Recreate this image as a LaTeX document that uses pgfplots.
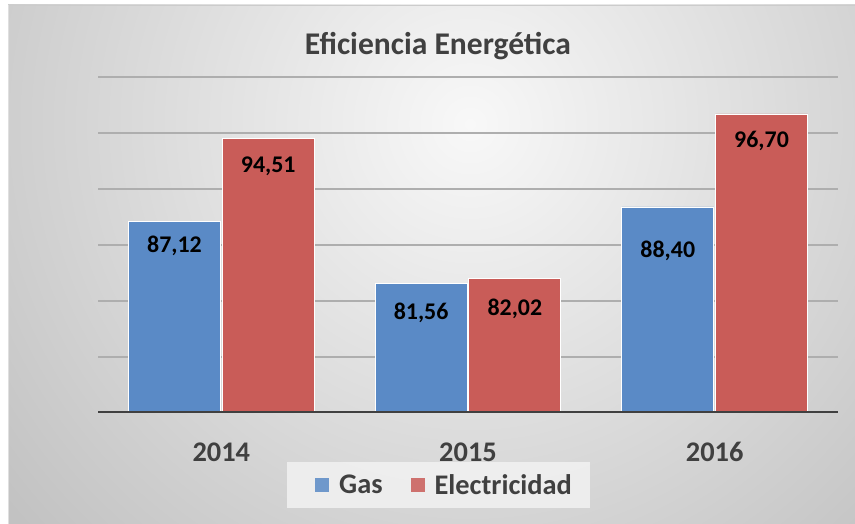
\documentclass[border=0pt]{standalone}
\usepackage{pgfplots}
\pgfplotsset{compat=1.18}
\usepackage{pgfplotstable}
\usepackage{fontspec}
\setmainfont{Carlito}
\definecolor{barblue}{HTML}{5A8AC6}
\definecolor{barred}{HTML}{C95C58}
\definecolor{txtgray}{HTML}{404040}
\definecolor{gridgray}{HTML}{AEAEAE}
\definecolor{bgout}{HTML}{C2C2C2}
\definecolor{bgin}{HTML}{F8F8F8}

\pgfplotstableread{
x  gas    elec
0  87.12  94.51
1  81.56  82.02
2  88.40  96.70
}\datatab

\pgfplotstableread{
x      y     label
-0.19  84.9  87,12
0.19   92.0  94,51
0.81   78.9  81,56
1.19   79.3  82,02
1.81   84.5  88,40
2.19   94.3  96,70
}\labtab

\begin{document}
\begin{tikzpicture}
\useasboundingbox (0,0) rectangle (855bp,524bp);
\fill[white] (0,0) rectangle (855bp,524bp);
\begin{scope}
\clip (8bp,0) rectangle (855bp,519bp);
\fill[bgout] (8bp,0) rectangle (855bp,519bp);
\shade[inner color=bgin, outer color=bgout] (470bp,400bp) circle (600bp);
\end{scope}
\draw[gray!40, line width=0.8bp] (8bp,519bp) -- (855bp,519bp);
\draw[gray!25, line width=0.8bp] (8bp,0) -- (8bp,519bp);

\begin{axis}[
  at={(98bp,111bp)}, anchor=south west,
  scale only axis, width=740bp, height=336bp,
  xmin=-0.5, xmax=2.5, ymin=70, ymax=100,
  axis line style={draw=none},
  xtick={0,1,2}, xticklabels={2014,2015,2016},
  ytick={75,80,...,100}, yticklabels={},
  major tick length=0pt,
  ymajorgrids,
  grid style={gridgray, line width=1.6bp},
  xticklabel style={font=\fontsize{28.5}{30}\selectfont\bfseries, text=txtgray, yshift=-26bp},
  legend style={at={(0.2554,-0.214)}, anchor=west, fill=gray!10, fill opacity=0.85, text opacity=1, draw=none,
    font=\fontsize{28.5}{30}\selectfont\bfseries, text=txtgray, legend columns=2,
    inner xsep=16bp, inner ysep=10.5bp,
    /tikz/every even column/.append style={column sep=14bp}},
  legend cell align=left,
]
\addplot[ybar, bar width=0.373, bar shift=-0.19, fill=barblue, draw=white, line width=0.8bp,
  legend image code/.code={\path[draw=none, fill=none] (-12bp,0) -- (22bp,0); \fill[barblue, draw=none] (0bp,-7bp) rectangle (14bp,7bp);}]
  table[x=x, y=gas]{\datatab};
\addlegendentry{Gas}
\addplot[ybar, bar width=0.373, bar shift=0.19, fill=barred, draw=white, line width=0.8bp,
  legend image code/.code={\path[draw=none, fill=none] (-12bp,0) -- (22bp,0); \fill[barred, draw=none] (0bp,-7bp) rectangle (14bp,7bp);}]
  table[x=x, y=elec]{\datatab};
\addlegendentry{Electricidad}
\addplot[draw=none, no markers, forget plot, nodes near coords, point meta=explicit symbolic,
  nodes near coords style={anchor=center, font=\fontsize{24}{26}\selectfont\bfseries, text=black}]
  table[x=x, y=y, meta=label]{\labtab};
\draw[txtgray, line width=3bp] (rel axis cs:0,0) -- (rel axis cs:1,0);
\end{axis}
\node[font=\fontsize{31.7}{33}\selectfont\bfseries, text=txtgray] at (438bp,478bp) {Eficiencia Energética};
\end{tikzpicture}
\end{document}
